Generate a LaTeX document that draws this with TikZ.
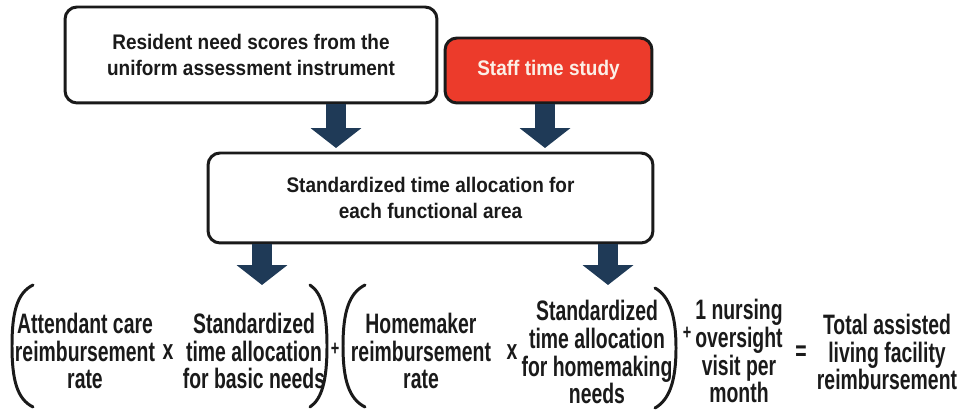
\documentclass[tikz,border=0pt]{standalone}
\usepackage{fontspec}
\usepackage{tikz}
\usetikzlibrary{arrows.meta}
\newfontfamily\boxfont{Liberation Sans}[FakeStretch=0.9]
\newfontfamily\eqfont{Liberation Sans}[FakeStretch=0.69]
\definecolor{c0}{HTML}{1A1A1A}
\definecolor{c1}{HTML}{1F3A57}
\definecolor{c2}{HTML}{EC3B2B}
\definecolor{c3}{HTML}{FBEFE6}

\begin{document}
\begin{tikzpicture}[x=0.02cm,y=-0.02cm,
  inbox/.style={draw=c0,line width=1.7pt,rounded corners=0.24cm,fill=white,text=c0,
    align=center,font=\boxfont\bfseries\fontsize{12}{15.3}\selectfont},
  term/.style={inner sep=0pt,align=center,text=c0,font=\eqfont\bfseries\fontsize{16}{15.9}\selectfont},
  sign/.style={inner sep=0pt,text=c0,font=\eqfont\bfseries\fontsize{16}{16}\selectfont},
  blockarr/.style={draw=c1,line width=11.3pt,-{Triangle[width=28.3pt,length=11.3pt]}},
  paren/.style={draw=c0,line width=1.7pt,line cap=round}]

\useasboundingbox (0,0) rectangle (970,411);

%\draw[help lines] (0,0) rectangle (970,411);

\node[inbox,minimum width=7.44cm,minimum height=1.92cm](res) at (251,55)
  {Resident need scores from the\\uniform assessment instrument};
\node[inbox,fill=c2,text=c3,minimum width=4.14cm,minimum height=1.3cm](study) at (548.5,70.5)
  {Staff time study};
\node[inbox,minimum width=8.9cm,minimum height=1.8cm](alloc) at (430.5,198)
  {Standardized time allocation for\\each functional area};

\coordinate (a1) at (336,148);
\coordinate (a2) at (545,148);
\coordinate (a3) at (262,285);
\coordinate (a4) at (608,285);

\draw[blockarr] (res.south -| a1) -- (a1);
\draw[blockarr] (study.south -| a2) -- (a2);
\draw[blockarr] (alloc.south -| a3) -- (a3);
\draw[blockarr] (alloc.south -| a4) -- (a4);

% first bracket
\draw[paren] (33,285) .. controls (17,293) and (12,312) .. (12,346) .. controls (12,380) and (17,399) .. (33,407);
\node[term](care) at (85,351) {Attendant care\\reimbursement\\rate};
\node[sign](x1) at (168,352) {x};
\node[term](basic) at (254,351) {Standardized\\time allocation\\for basic needs};
\draw[paren] (310,285) .. controls (322,293) and (327,312) .. (327,346) .. controls (327,380) and (322,399) .. (310,407);
\node[sign,font=\eqfont\bfseries\fontsize{12}{12}\selectfont](p1) at (335,349) {+};

% second bracket
\draw[paren] (365,285) .. controls (349,293) and (343,312) .. (343,346) .. controls (343,380) and (349,399) .. (365,407);
\node[term](maker) at (421,351) {Homemaker\\reimbursement\\rate};
\node[sign](x2) at (512,352) {x};
\node[term](home) at (597,352) {Standardized\\time allocation\\for homemaking\\needs};
\draw[paren] (655,288) .. controls (669,296) and (676,314) .. (676,348) .. controls (676,382) and (669,400) .. (655,408);
\node[sign,font=\eqfont\bfseries\fontsize{12}{12}\selectfont](p2) at (687,333) {+};

\node[term](visit) at (739,351) {1 nursing\\oversight\\visit per\\month};
\node[sign](eq) at (801,353) {=};
\node[term](total) at (887,352) {Total assisted\\living facility\\reimbursement};

\end{tikzpicture}
\end{document}
